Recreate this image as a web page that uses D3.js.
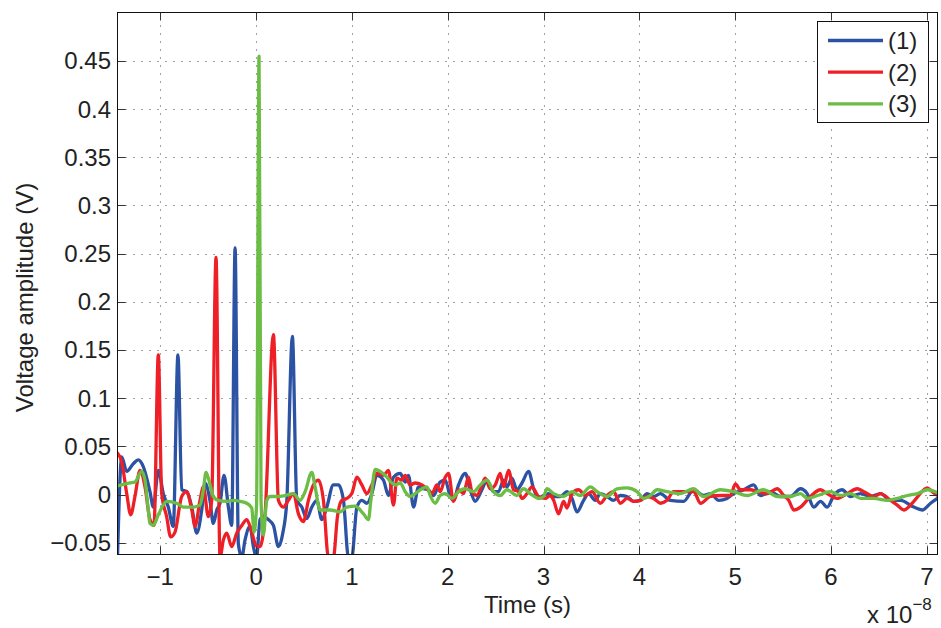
<!DOCTYPE html>
<html><head><meta charset="utf-8">
<script src="https://cdn.jsdelivr.net/npm/d3@7"></script>
<style>
body{margin:0;background:#fff;}
text{font-family:"Liberation Sans",Arial,Helvetica,sans-serif;fill:#222;}
</style>
</head><body>
<svg id="chart" width="941" height="628"></svg>
<script>
// ---- data (time in units of 1e-8 s, amplitude in V) ----
const xTicks = [-1, 0, 1, 2, 3, 4, 5, 6, 7];
const xTickLabels = ["\u22121", "0", "1", "2", "3", "4", "5", "6", "7"];
const yTicks = [-0.05, 0, 0.05, 0.1, 0.15, 0.2, 0.25, 0.3, 0.35, 0.4, 0.45];
const yTickLabels = ["\u22120.05", "0", "0.05", "0.1", "0.15", "0.2", "0.25", "0.3", "0.35", "0.4", "0.45"];
const seriesNames = ["(1)", "(2)", "(3)"];
const seriesColors = ["#2c52a3", "#ee1f26", "#6cbd45"];

const t1 = [-1.446,-1.402,-1.350,-1.281,-1.229,-1.177,-1.107,-1.072,-1.020,-0.968,-0.916,-0.864,-0.815,-0.776,-0.724,-0.671,-0.619,-0.567,-0.533,-0.480,-0.446,-0.410,-0.376,-0.334,-0.289,-0.254,-0.219,-0.185,-0.149,-0.115,-0.063,-0.028,0.005,0.042,0.076,0.128,0.181,0.233,0.279,0.321,0.379,0.425,0.477,0.529,0.582,0.634,0.686,0.738,0.807,0.859,0.912,0.964,0.999,1.052,1.104,1.156,1.208,1.260,1.329,1.382,1.434,1.504,1.556,1.590,1.643,1.695,1.747,1.799,1.852,1.921,1.974,2.026,2.060,2.113,2.183,2.235,2.287,2.357,2.409,2.478,2.530,2.583,2.618,2.670,2.722,2.775,2.844,2.896,2.948,3.000,3.052,3.105,3.175,3.245,3.297,3.349,3.418,3.470,3.540,3.592,3.662,3.731,3.801,3.871,3.940,4.010,4.080,4.149,4.219,4.323,4.462,4.567,4.671,4.741,4.828,4.915,4.984,5.089,5.193,5.263,5.368,5.472,5.576,5.681,5.751,5.820,5.890,5.960,6.029,6.116,6.203,6.308,6.412,6.516,6.621,6.725,6.864,6.952,7.039,7.111];
const v1 = [-0.065,0.039,0.024,0.032,0.036,0.029,0.003,-0.013,0.025,0.001,-0.013,-0.033,0.145,0.005,0.003,-0.013,-0.040,-0.016,0.012,-0.007,-0.030,-0.016,-0.009,0.020,-0.013,-0.032,0.256,-0.051,-0.065,-0.047,-0.033,-0.054,-0.065,-0.026,-0.023,-0.026,-0.032,-0.054,-0.040,-0.006,0.164,-0.006,-0.013,-0.025,-0.013,-0.006,-0.026,-0.013,0.010,0.010,-0.006,-0.065,-0.065,-0.013,-0.006,-0.009,0.001,0.020,0.015,-0.001,0.018,0.022,0.013,0.020,-0.013,0.008,0.006,0.005,-0.001,0.013,0.015,-0.002,-0.006,0.010,0.022,0.005,-0.007,0.005,0.015,0.003,0.003,0.015,0.008,0.017,0.005,0.012,0.024,0.006,-0.004,-0.001,0.001,-0.002,-0.002,0.003,-0.004,-0.018,-0.006,0.001,-0.006,0.001,-0.002,-0.006,-0.001,-0.002,-0.007,-0.006,0.001,-0.002,0.001,-0.006,-0.007,0.005,-0.001,0.001,-0.006,-0.004,0.001,0.005,0.010,-0.001,0.003,-0.002,-0.002,0.006,0.001,-0.013,-0.007,-0.013,-0.001,0.005,-0.002,0.001,-0.002,0.001,-0.006,-0.006,-0.013,-0.016,-0.009,-0.004];

const t2 = [-1.446,-1.402,-1.350,-1.308,-1.264,-1.211,-1.159,-1.107,-1.065,-1.020,-0.985,-0.933,-0.891,-0.846,-0.776,-0.724,-0.671,-0.637,-0.585,-0.550,-0.498,-0.463,-0.418,-0.376,-0.341,-0.306,-0.254,-0.202,-0.149,-0.097,-0.045,0.007,0.042,0.094,0.181,0.233,0.285,0.337,0.390,0.442,0.494,0.546,0.598,0.651,0.703,0.755,0.807,0.849,0.895,0.947,0.999,1.052,1.104,1.156,1.208,1.260,1.329,1.382,1.434,1.469,1.522,1.556,1.608,1.660,1.730,1.783,1.835,1.887,1.921,1.974,2.008,2.060,2.113,2.165,2.217,2.252,2.305,2.357,2.391,2.444,2.496,2.548,2.583,2.635,2.687,2.739,2.775,2.827,2.879,2.948,3.018,3.070,3.105,3.157,3.209,3.245,3.297,3.366,3.436,3.506,3.592,3.662,3.731,3.801,3.871,3.940,4.010,4.080,4.149,4.219,4.289,4.358,4.462,4.567,4.637,4.741,4.845,4.950,5.002,5.054,5.159,5.229,5.333,5.438,5.507,5.559,5.611,5.681,5.785,5.890,5.960,6.064,6.169,6.273,6.342,6.447,6.516,6.621,6.691,6.760,6.864,6.969,7.004,7.056,7.111];
const v2 = [0.043,0.034,0.001,-0.021,-0.002,0.025,0.008,-0.026,-0.032,0.145,0.001,-0.023,-0.044,-0.039,-0.002,0.003,-0.016,-0.033,-0.006,0.008,-0.023,-0.006,0.246,-0.065,-0.047,-0.040,-0.054,-0.040,-0.032,-0.026,-0.039,-0.054,-0.054,-0.020,0.166,-0.006,-0.013,-0.006,0.001,-0.020,-0.028,-0.006,0.010,0.015,-0.006,-0.065,-0.065,-0.023,-0.006,-0.004,0.001,0.018,0.010,0.001,0.010,0.022,0.020,0.025,-0.011,0.017,0.015,0.020,0.010,0.012,0.010,0.006,0.001,0.010,0.003,0.018,0.022,-0.007,0.005,0.001,0.018,0.003,-0.001,0.010,0.017,0.006,0.010,0.022,0.008,0.025,0.005,0.003,-0.004,0.001,0.008,-0.002,-0.004,-0.001,-0.006,-0.020,-0.007,-0.014,0.001,0.005,-0.001,0.003,-0.009,-0.001,0.003,-0.009,-0.004,-0.007,-0.006,-0.002,-0.004,-0.009,-0.006,0.003,0.003,0.003,-0.009,-0.002,-0.001,-0.001,0.011,0.005,0.005,0.003,0.001,0.006,-0.001,-0.006,-0.016,-0.013,-0.002,0.005,0.001,-0.004,0.001,0.006,0.003,-0.002,0.001,-0.006,-0.011,-0.016,-0.007,0.005,0.007,0.003,-0.001];

const t3 = [-1.446,-1.316,-1.264,-1.194,-1.159,-1.125,-1.107,-1.072,-1.020,-0.933,-0.828,-0.759,-0.655,-0.585,-0.550,-0.522,-0.498,-0.446,-0.394,-0.306,-0.237,-0.167,-0.097,-0.045,-0.021,0.005,0.031,0.052,0.076,0.112,0.146,0.216,0.303,0.390,0.459,0.512,0.582,0.616,0.668,0.773,0.877,0.947,1.034,1.121,1.173,1.198,1.243,1.295,1.365,1.417,1.452,1.504,1.556,1.608,1.660,1.730,1.783,1.817,1.870,1.921,1.974,2.044,2.113,2.183,2.269,2.339,2.409,2.478,2.548,2.618,2.722,2.791,2.861,2.948,3.000,3.036,3.105,3.209,3.297,3.383,3.488,3.558,3.662,3.767,3.871,3.976,4.045,4.114,4.184,4.289,4.428,4.563,4.668,4.845,4.981,5.127,5.294,5.440,5.576,5.681,5.754,5.858,5.994,6.098,6.203,6.308,6.443,6.589,6.694,6.798,6.903,7.008,7.111];
const v3 = [0.009,0.012,0.013,0.024,0.015,-0.016,-0.030,-0.032,-0.021,-0.007,-0.009,-0.013,-0.013,-0.011,0.005,0.023,0.017,-0.002,-0.006,-0.007,-0.006,-0.007,-0.009,-0.014,-0.039,-0.011,0.455,-0.006,-0.042,-0.006,-0.002,-0.002,-0.001,0.001,-0.006,0.003,0.023,0.008,-0.016,-0.016,-0.018,-0.013,-0.012,-0.020,-0.026,-0.006,0.026,0.024,0.018,0.012,0.010,0.012,0.003,-0.002,0.001,0.006,0.008,-0.001,-0.009,-0.001,0.001,-0.004,0.003,0.006,0.003,0.010,0.015,0.003,-0.001,0.005,-0.001,0.006,0.001,-0.004,-0.002,0.006,0.001,-0.002,0.003,-0.001,0.008,0.003,-0.002,0.006,0.007,0.003,-0.004,-0.001,0.005,0.003,0.001,0.006,-0.002,0.005,0.003,-0.001,0.005,-0.002,-0.002,0.001,-0.004,-0.001,0.003,-0.001,0.001,-0.004,-0.004,-0.006,-0.004,-0.001,0.001,0.005,0.002];

const seriesT = [t1, t2, t3];
const seriesV = [v1, v2, v3];

// ---- layout ----
const svg = d3.select("#chart");
const L = 117.5, R = 937.5, T = 12.5, B = 554.5;
const x = d3.scaleLinear().domain([-1.446, 7.111]).range([L, R]);
const y = d3.scaleLinear().domain([-0.0622, 0.5002]).range([B, T]);

svg.append("rect").attr("x", 0).attr("y", 0).attr("width", 941).attr("height", 628).attr("fill", "#fff");
svg.append("rect").attr("x", L).attr("y", T).attr("width", R - L).attr("height", B - T).attr("fill", "#fff");

// grid
const grid = svg.append("g").attr("stroke", "#444").attr("stroke-width", 1).attr("stroke-dasharray", "1,7");
grid.selectAll("line.gx").data(xTicks).join("line")
  .attr("x1", d => Math.round(x(d)) + 0.5).attr("x2", d => Math.round(x(d)) + 0.5)
  .attr("y1", B).attr("y2", T);
grid.selectAll("line.gy").data(yTicks).join("line")
  .attr("y1", d => Math.round(y(d)) + 0.5).attr("y2", d => Math.round(y(d)) + 0.5)
  .attr("x1", L).attr("x2", R);

// series
svg.append("clipPath").attr("id", "clip").append("rect")
  .attr("x", L).attr("y", T).attr("width", R - L).attr("height", B - T);
const line = d3.line().x(d => x(d[0])).y(d => y(d[1])).curve(d3.curveMonotoneX);
const plot = svg.append("g").attr("clip-path", "url(#clip)");
seriesT.forEach((ts, i) => {
  const pts = ts.map((t, j) => [t, seriesV[i][j]]);
  plot.append("path").datum(pts).attr("d", line)
    .attr("fill", "none").attr("stroke", seriesColors[i])
    .attr("stroke-width", 3.3).attr("stroke-linejoin", "round").attr("stroke-linecap", "round");
});

// axes (ticks inward on all four sides)
const tickLen = 8;
const ax = svg.append("g").attr("stroke", "#333").attr("stroke-width", 1);
xTicks.forEach(d => {
  const xx = Math.round(x(d)) + 0.5;
  ax.append("line").attr("x1", xx).attr("x2", xx).attr("y1", B).attr("y2", B - tickLen);
  ax.append("line").attr("x1", xx).attr("x2", xx).attr("y1", T).attr("y2", T + tickLen);
});
yTicks.forEach(d => {
  const yy = Math.round(y(d)) + 0.5;
  ax.append("line").attr("y1", yy).attr("y2", yy).attr("x1", L).attr("x2", L + tickLen);
  ax.append("line").attr("y1", yy).attr("y2", yy).attr("x1", R).attr("x2", R - tickLen);
});
svg.append("rect").attr("x", L).attr("y", T).attr("width", R - L).attr("height", B - T)
  .attr("fill", "none").attr("stroke", "#111").attr("stroke-width", 1);

// tick labels
svg.append("g").selectAll("text").data(xTicks).join("text")
  .attr("x", d => x(d)).attr("y", 585)
  .attr("text-anchor", "middle").attr("font-size", 24)
  .text((d, i) => xTickLabels[i]);
svg.append("g").selectAll("text").data(yTicks).join("text")
  .attr("x", 111).attr("y", d => y(d) + 8.5)
  .attr("text-anchor", "end").attr("font-size", 24)
  .text((d, i) => yTickLabels[i]);

// axis titles
svg.append("text").attr("x", (L + R) / 2).attr("y", 613)
  .attr("text-anchor", "middle").attr("font-size", 24).text("Time (s)");
svg.append("text").attr("transform", "translate(33," + ((T + B) / 2 + 14) + ") rotate(-90)")
  .attr("text-anchor", "middle").attr("font-size", 24).text("Voltage amplitude (V)");

// exponent
const ex = svg.append("text").attr("x", 867).attr("y", 623).attr("font-size", 24);
ex.append("tspan").text("x 10");
ex.append("tspan").attr("dy", -13).attr("font-size", 17).text("\u22128");

// legend
const lg = svg.append("g");
lg.append("rect").attr("x", 817.5).attr("y", 21.5).attr("width", 111).attr("height", 101)
  .attr("fill", "#fff").attr("stroke", "#111").attr("stroke-width", 1);
seriesNames.forEach((n, i) => {
  const yy = 40.5 + i * 31.7;
  lg.append("line").attr("x1", 828).attr("x2", 883).attr("y1", yy).attr("y2", yy)
    .attr("stroke", seriesColors[i]).attr("stroke-width", 3.3);
  lg.append("text").attr("x", 888).attr("y", yy + 8.5).attr("font-size", 24).text(n);
});
</script>
</body></html>
